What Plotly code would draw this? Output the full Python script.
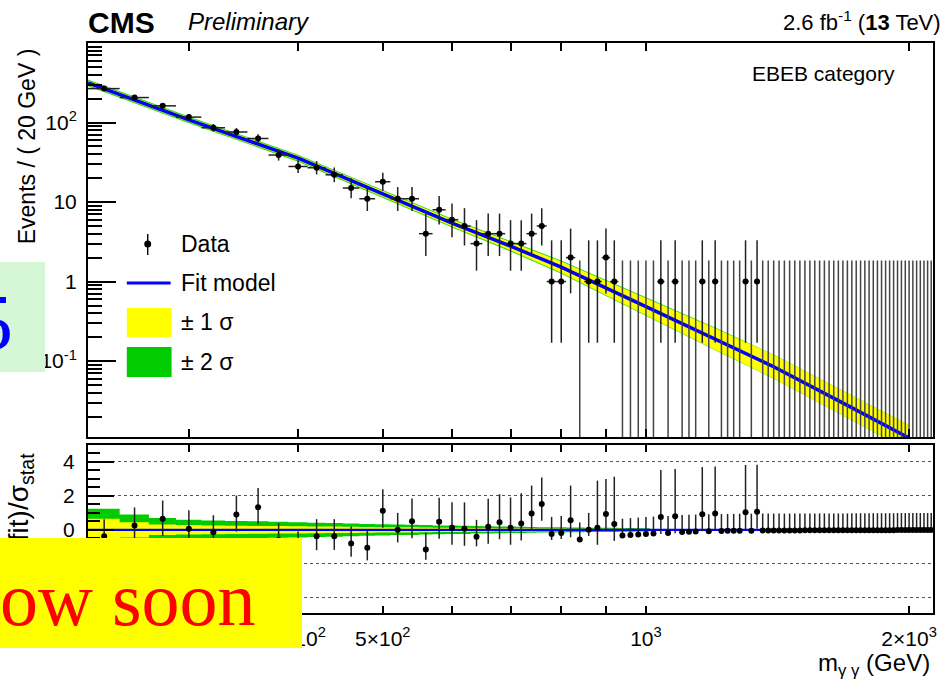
import math
import plotly.graph_objects as go

# ---------------- data ----------------
bin_width = 20
bin_centers = list(range(240, 2121, 20))   # 95 bins, 230 -> 2130 GeV

counts = [
    267, 206, 162, 117, 86, 76, 63, 39, 28, 27,
    22, 15, 11, 18, 11, 11, 4, 8, 6, 5,
    3, 4, 4, 3, 3, 4, 5, 1, 1, 2,
    0, 1, 1, 2, 1, 0, 0, 0, 0, 0,
    1, 0, 1, 0, 0, 0, 1, 0, 1, 0,
    0, 0, 0, 1, 0, 1, 0, 0, 0, 0,
    0, 0, 0, 0, 0, 0, 0, 0, 0, 0,
    0, 0, 0, 0, 0, 0, 0, 0, 0, 0,
    0, 0, 0, 0, 0, 0, 0, 0, 0, 0,
    0, 0, 0, 0, 0,
]
err_up = [
    16.85, 14.86, 13.24, 11.32, 9.79, 9.23, 8.45, 6.76, 5.81, 5.72,
    5.21, 4.95, 4.43, 5.29, 4.43, 4.43, 3.16, 3.94, 3.58, 3.38,
    2.92, 3.16, 3.16, 2.92, 2.92, 3.16, 3.38, 2.30, 2.30, 2.64,
    1.84, 2.30, 2.30, 2.64, 2.30, 1.84, 1.84, 1.84, 1.84, 1.84,
    2.30, 1.84, 2.30, 1.84, 1.84, 1.84, 2.30, 1.84, 2.30, 1.84,
    1.84, 1.84, 1.84, 2.30, 1.84, 2.30, 1.84, 1.84, 1.84, 1.84,
    1.84, 1.84, 1.84, 1.84, 1.84, 1.84, 1.84, 1.84, 1.84, 1.84,
    1.84, 1.84, 1.84, 1.84, 1.84, 1.84, 1.84, 1.84, 1.84, 1.84,
    1.84, 1.84, 1.84, 1.84, 1.84, 1.84, 1.84, 1.84, 1.84, 1.84,
    1.84, 1.84, 1.84, 1.84, 1.84,
]
err_dn = [
    15.85, 13.86, 12.24, 10.32, 8.79, 8.23, 7.45, 5.76, 4.81, 4.72,
    4.21, 3.85, 3.28, 4.20, 3.28, 3.28, 1.91, 2.77, 2.38, 2.16,
    1.63, 1.91, 1.91, 1.63, 1.63, 1.91, 2.16, 0.83, 0.83, 1.29,
    0, 0.83, 0.83, 1.29, 0.83, 0, 0, 0, 0, 0,
    0.83, 0, 0.83, 0, 0, 0, 0.83, 0, 0.83, 0,
    0, 0, 0, 0.83, 0, 0.83, 0, 0, 0, 0,
    0, 0, 0, 0, 0, 0, 0, 0, 0, 0,
    0, 0, 0, 0, 0, 0, 0, 0, 0, 0,
    0, 0, 0, 0, 0, 0, 0, 0, 0, 0,
    0, 0, 0, 0, 0,
]

# fit model read at a few masses
fit_mass = [230, 300, 400, 500, 600, 700, 800, 1000, 1200, 1400, 1700, 2000]
fit_value = [315, 108, 35.6, 12.6, 5.43, 2.79, 1.52, 0.484, 0.19, 0.085, 0.0277, 0.0108]
band1_logw = [0.028, 0.028, 0.03, 0.034, 0.042, 0.052, 0.07, 0.105, 0.135, 0.15, 0.158, 0.163]
band2_logw = [0.042, 0.042, 0.044, 0.048, 0.056, 0.066, 0.084, 0.117, 0.142, 0.153, 0.158, 0.163]

# pull panel
pull = [
    -0.37, 0.25, 0.65, 0.06, -0.14, 0.90, 1.33, -0.60, -1.10, -0.37,
    -0.37, -0.80, -1.06, 1.13, 0.00, 0.50, -1.16, 0.47, 0.12, 0.06,
    -0.41, 0.18, 0.45, 0.12, 0.37, 0.96, 1.53, -0.24, -0.18, 0.56,
    -0.57, 0.00, 0.12, 0.94, 0.35, -0.34, -0.31, -0.28, -0.25, -0.22,
    0.75, -0.18, 0.80, -0.13, -0.11, -0.10, 0.92, -0.08, 0.96, -0.07,
    -0.06, -0.06, -0.05, 1.04, -0.05, 1.06, -0.04, -0.04, -0.04, -0.04,
    -0.04, -0.04, -0.04, -0.04, -0.03, -0.03, -0.03, -0.03, -0.03, -0.03,
    -0.03, -0.03, -0.03, -0.03, -0.02, -0.02, -0.02, -0.02, -0.02, -0.02,
    -0.02, -0.02, -0.02, -0.02, -0.02, -0.01, -0.01, -0.01, -0.01, -0.01,
    -0.01, -0.01, -0.01, -0.01, -0.01,
]
pull_err_up = [
    1.0, 1.07, 1.08, 1.09, 1.0, 1.12, 1.13, 1.0, 1.0, 1.0,
    1.0, 1.0, 1.0, 1.26, 1.0, 1.35, 1.0, 1.42, 1.5, 1.56,
    1.0, 1.65, 1.65, 1.79, 1.79, 1.65, 1.56, 1.0, 1.0, 2.05,
    1.0, 1.0, 2.78, 2.05, 2.78, 1.0, 1.0, 1.0, 1.0, 1.0,
    2.78, 1.0, 2.78, 1.0, 1.0, 1.0, 2.78, 1.0, 2.78, 1.0,
    1.0, 1.0, 1.0, 2.78, 1.0, 2.78, 1.0, 1.0, 1.0, 1.0,
    1.0, 1.0, 1.0, 1.0, 1.0, 1.0, 1.0, 1.0, 1.0, 1.0,
    1.0, 1.0, 1.0, 1.0, 1.0, 1.0, 1.0, 1.0, 1.0, 1.0,
    1.0, 1.0, 1.0, 1.0, 1.0, 1.0, 1.0, 1.0, 1.0, 1.0,
    1.0, 1.0, 1.0, 1.0, 1.0,
]
pull_err_dn = [
    0.94, 1.0, 1.0, 1.0, 0.9, 1.0, 1.0, 0.85, 0.83, 0.83,
    0.81, 0.78, 0.74, 1.0, 0.74, 1.0, 0.6, 1.0, 1.0, 1.0,
    0.56, 1.0, 1.0, 1.0, 1.0, 1.0, 1.0, 0.36, 0.36, 1.0,
    0, 0.36, 1.0, 1.0, 1.0, 0, 0, 0, 0, 0,
    1.0, 0, 1.0, 0, 0, 0, 1.0, 0, 1.0, 0,
    0, 0, 0, 1.0, 0, 1.0, 0, 0, 0, 0,
    0, 0, 0, 0, 0, 0, 0, 0, 0, 0,
    0, 0, 0, 0, 0, 0, 0, 0, 0, 0,
    0, 0, 0, 0, 0, 0, 0, 0, 0, 0,
    0, 0, 0, 0, 0,
]
# fit uncertainty in pull units (first bins, 240 .. 1000 GeV)
pull_band2 = [1.24, 0.9, 0.7, 0.6, 0.55, 0.52, 0.5, 0.47, 0.45, 0.42,
              0.4, 0.38, 0.35, 0.33, 0.31, 0.3, 0.28, 0.26, 0.25, 0.24,
              0.22, 0.21, 0.2, 0.19, 0.18, 0.17, 0.16, 0.15, 0.15, 0.14,
              0.14, 0.13, 0.13, 0.12, 0.12, 0.11, 0.11, 0.1, 0.1]
pull_band1 = [0.66, 0.45, 0.31, 0.28, 0.26, 0.24, 0.23, 0.22, 0.21, 0.2,
              0.19, 0.18, 0.17, 0.16, 0.15, 0.15, 0.14, 0.13, 0.12, 0.12,
              0.11, 0.11, 0.1, 0.1, 0.09, 0.09, 0.08, 0.08, 0.08, 0.07,
              0.07, 0.07, 0.06, 0.06, 0.06, 0.06, 0.05, 0.05, 0.05]

x_tickvals = [300, 400, 500, 600, 700, 800, 900, 1000, 2000]
x_ticktext = ["", "4×10<sup>2</sup>", "5×10<sup>2</sup>", "", "", "", "", "10<sup>3</sup>", "2×10<sup>3</sup>"]
y_tickvals = [0.1, 1, 10, 100]
y_ticktext = ["10<sup>-1</sup>", "1", "10", "10<sup>2</sup>"]
pull_tickvals = [-4, -2, 0, 2, 4]
pull_ticktext = ["", "", "0", "2", "4"]   # -4 and -2 lie under the pasted yellow box

# ---------------- layout geometry ----------------
W, H = 949, 684
ML, MR, MT, MB = 88, 12, 43, 71
PW, PH = W - ML - MR, H - MT - MB


def px(x):
    return (x - ML) / PW


def py(y):
    return (H - MB - y) / PH


FONT = "Liberation Sans, Arial, sans-serif"
SERIF = "Liberation Serif, Times New Roman, serif"
x_lo = bin_centers[0] - bin_width / 2
x_hi = bin_centers[-1] + bin_width / 2
xrange_log = [math.log10(x_lo), math.log10(x_hi)]

fig = go.Figure()

# ---- upper panel ----
b2_hi = [v * 10 ** w for v, w in zip(fit_value, band2_logw)]
b2_lo = [v / 10 ** w for v, w in zip(fit_value, band2_logw)]
b1_hi = [v * 10 ** w for v, w in zip(fit_value, band1_logw)]
b1_lo = [v / 10 ** w for v, w in zip(fit_value, band1_logw)]
fig.add_trace(go.Scatter(x=fit_mass + fit_mass[::-1], y=b2_hi + b2_lo[::-1], fill="toself",
                         fillcolor="#33dd22", line=dict(width=0), mode="lines",
                         hoverinfo="skip", xaxis="x", yaxis="y"))
fig.add_trace(go.Scatter(x=fit_mass + fit_mass[::-1], y=b1_hi + b1_lo[::-1], fill="toself",
                         fillcolor="#ffff00", line=dict(width=0), mode="lines",
                         hoverinfo="skip", xaxis="x", yaxis="y"))
fig.add_trace(go.Scatter(x=fit_mass, y=fit_value, mode="lines",
                         line=dict(color="#0000ff", width=3.5), xaxis="x", yaxis="y"))

# zero-count bins: only an upper error bar from the bottom of the frame
zx, zy = [], []
for c, n, eu in zip(bin_centers, counts, err_up):
    if n == 0:
        zx += [c, c, None]
        zy += [1e-3, eu, None]
fig.add_trace(go.Scatter(x=zx, y=zy, mode="lines", line=dict(color="#444444", width=1.5),
                         hoverinfo="skip", xaxis="x", yaxis="y"))

nz = [i for i, n in enumerate(counts) if n > 0]
fig.add_trace(go.Scatter(
    x=[bin_centers[i] for i in nz], y=[counts[i] for i in nz], mode="markers",
    marker=dict(color="black", size=6),
    error_y=dict(type="data", symmetric=False, array=[err_up[i] for i in nz],
                 arrayminus=[err_dn[i] for i in nz], color="#222222", thickness=1.5, width=0),
    error_x=dict(type="constant", value=bin_width / 2, color="#222222", thickness=1.5, width=0),
    xaxis="x", yaxis="y"))

# ---- lower panel ----


def boxes(half):
    xs, ys = [], []
    for c, h in zip(bin_centers, half):
        x0, x1 = c - bin_width / 2, c + bin_width / 2
        xs += [x0, x1, x1, x0, x0, None]
        ys += [-h, -h, h, h, -h, None]
    return xs, ys


bx, by = boxes(pull_band2)
fig.add_trace(go.Scatter(x=bx, y=by, fill="toself", fillcolor="#00cc00", line=dict(width=0),
                         mode="lines", hoverinfo="skip", xaxis="x2", yaxis="y2"))
bx, by = boxes(pull_band1)
fig.add_trace(go.Scatter(x=bx, y=by, fill="toself", fillcolor="#ffff00", line=dict(width=0),
                         mode="lines", hoverinfo="skip", xaxis="x2", yaxis="y2"))
fig.add_trace(go.Scatter(x=[x_lo, x_hi], y=[0, 0], mode="lines",
                         line=dict(color="#0000ff", width=2.2), xaxis="x2", yaxis="y2"))
fig.add_trace(go.Scatter(
    x=bin_centers, y=pull, mode="markers", marker=dict(color="black", size=6),
    error_y=dict(type="data", symmetric=False, array=pull_err_up, arrayminus=pull_err_dn,
                 color="#222222", thickness=1.5, width=0),
    xaxis="x2", yaxis="y2"))

axis_common = dict(showline=True, linewidth=2, linecolor="black", ticks="inside",
                   tickcolor="black", zeroline=False, tickfont=dict(family=FONT, size=21, color="black"))

fig.update_layout(
    width=W, height=H, margin=dict(l=ML, r=MR, t=MT, b=MB),
    paper_bgcolor="white", plot_bgcolor="white", showlegend=False,
    font=dict(family=FONT, size=21, color="black"),
    xaxis=dict(type="log", range=xrange_log, domain=[0, 1], anchor="y",
               tickmode="array", tickvals=x_tickvals, showticklabels=False,
               ticklen=8, tickwidth=1.5, mirror="ticks", showgrid=False, **axis_common),
    yaxis=dict(type="log", range=[math.log10(0.0111), 3], domain=[py(437), 1], anchor="x",
               tickmode="array", tickvals=y_tickvals, ticktext=y_ticktext,
               ticklen=28, tickwidth=2, mirror=True, showgrid=False, ticklabelstandoff=5,
               minor=dict(tickmode="array",
                          tickvals=[k * 10 ** e for e in range(-2, 3) for k in range(2, 10)],
                          ticklen=14, tickwidth=1.5, tickcolor="black", ticks="inside", showgrid=False),
               **axis_common),
    xaxis2=dict(type="log", range=xrange_log, domain=[0, 1], anchor="y2",
                tickmode="array", tickvals=x_tickvals, ticktext=x_ticktext,
                ticklen=7, tickwidth=1.5, mirror="ticks", showgrid=False, ticklabelstandoff=6,
                **axis_common),
    yaxis2=dict(range=[-4.9, 5.0], domain=[0, py(445)], anchor="x2",
                tickmode="array", tickvals=pull_tickvals, ticktext=pull_ticktext,
                ticklen=26, tickwidth=2, mirror=True, ticklabelstandoff=7,
                showgrid=True, gridcolor="#555555", gridwidth=1, griddash="dot",
                minor=dict(tickmode="array",
                           tickvals=[-4.5, -3.5, -3, -2.5, -1.5, -1, -0.5, 0.5, 1, 1.5, 2.5, 3, 3.5, 4.5],
                           ticklen=12, tickwidth=1.5, tickcolor="black", ticks="inside", showgrid=False),
                **axis_common),
)

# ---- legend (drawn by hand, ROOT style) ----
shapes = [
    dict(type="line", xref="paper", yref="paper", x0=px(148), x1=px(148), y0=py(234), y1=py(255),
         line=dict(color="black", width=1.4)),
    dict(type="circle", xref="paper", yref="paper", x0=px(144.5), x1=px(151.5), y0=py(240.5), y1=py(247.5),
         fillcolor="black", line=dict(color="black", width=0)),
    dict(type="line", xref="paper", yref="paper", x0=px(127), x1=px(171), y0=py(283), y1=py(283),
         line=dict(color="#0000ff", width=3)),
    dict(type="rect", xref="paper", yref="paper", x0=px(127), x1=px(172), y0=py(308), y1=py(337),
         fillcolor="#ffff00", line=dict(width=0)),
    dict(type="rect", xref="paper", yref="paper", x0=px(127), x1=px(172), y0=py(347), y1=py(377),
         fillcolor="#00cc00", line=dict(width=0)),
]
fig.update_layout(shapes=shapes)


def ann(text, x, y, xanchor="left", yanchor="middle", size=21, family=FONT, color="black", angle=0, **kw):
    return dict(text=text, x=px(x), y=py(y), xref="paper", yref="paper", xanchor=xanchor,
                yanchor=yanchor, showarrow=False, textangle=angle,
                font=dict(family=family, size=size, color=color), **kw)


annotations = [
    ann("<b>CMS</b>", 86, 22, size=30),
    ann("<i>Preliminary</i>", 186, 21, size=24),
    ann("2.6 fb<sup>-1</sup> (<b>13</b> TeV)", 947, 21, xanchor="right", size=22),
    ann("EBEB category", 827, 73, xanchor="center", size=21),
    ann("Events / ( 20 GeV )", 27, 146, xanchor="center", angle=-90, size=23),
    ann("(data-fit)/σ<sub>stat</sub>", 20, 534, xanchor="center", angle=-90, size=28),
    ann("m<sub>γ γ</sub> (GeV)", 936, 664, xanchor="right", size=24),
    ann("Data", 179, 244, size=23),
    ann("Fit model", 179, 283, size=23),
    ann("± 1 σ", 179, 322, size=23),
    ann("± 2 σ", 179, 362, size=23),
    # overlay boxes pasted over the figure
    dict(text=" ", x=px(-2), y=py(262), xref="paper", yref="paper", xanchor="left", yanchor="top",
         width=47, height=110, bgcolor="#d5f7d5", borderpad=0, borderwidth=0, showarrow=False),
    ann("5", 15, 323, xanchor="right", size=80, family=SERIF, color="#0000ff"),
    dict(text=" ", x=px(-2), y=py(538), xref="paper", yref="paper", xanchor="left", yanchor="top",
         width=304, height=110, bgcolor="#ffff00", borderpad=0, borderwidth=0, showarrow=False),
    ann("ow soon", -2, 599, size=76, family=SERIF, color="#ff0000"),
]
fig.update_layout(annotations=annotations)

fig.write_html("out.html", config={"displayModeBar": False},
               post_script="document.body.style.margin='0';document.body.style.overflow='hidden';")
